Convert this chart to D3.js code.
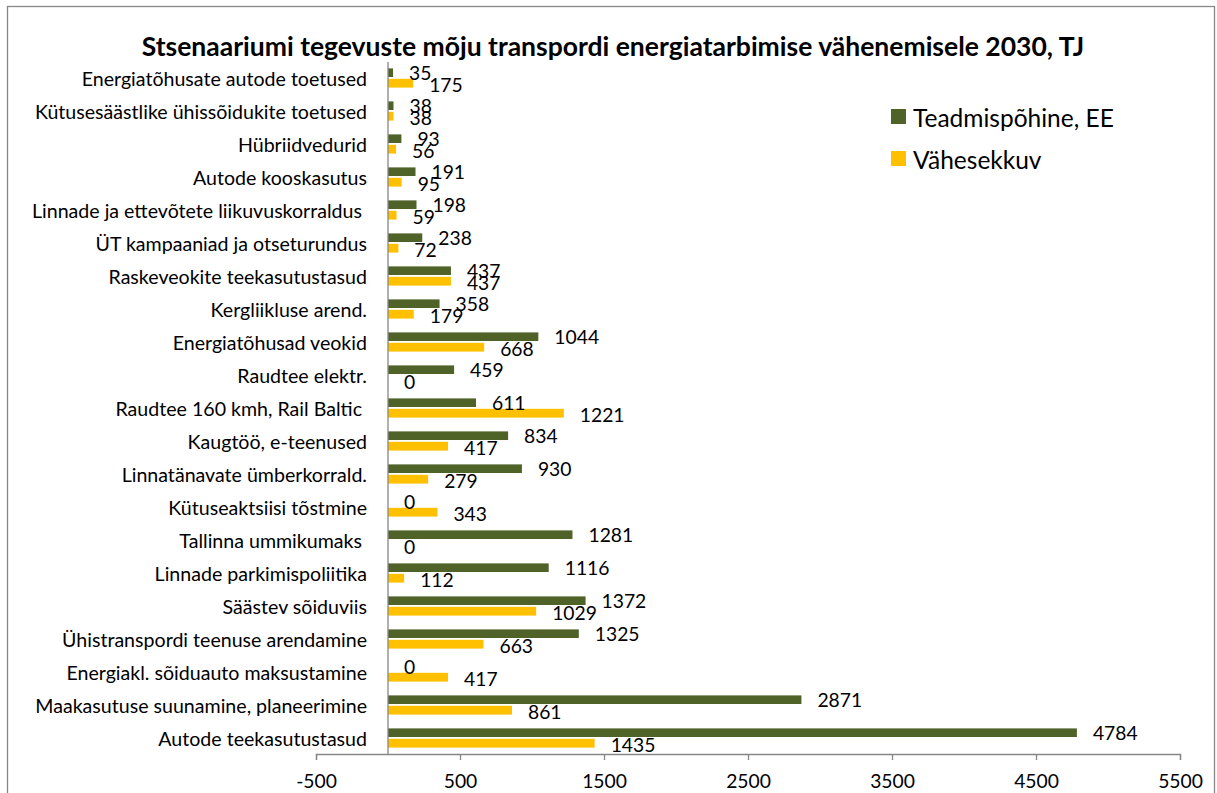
<!DOCTYPE html>
<html>
<head>
<meta charset="utf-8">
<script src="https://cdn.jsdelivr.net/npm/d3@7"></script>
<style>
  html, body { margin: 0; padding: 0; background: #fff; }
  svg text { font-family: Lato, "Open Sans", sans-serif; fill: #000; }
</style>
</head>
<body>
<svg id="chart" width="1217" height="793"></svg>
<script>
const title = "Stsenaariumi tegevuste mõju transpordi energiatarbimise vähenemisele 2030, TJ";
const categories = [
  "Energiatõhusate autode toetused",
  "Kütusesäästlike ühissõidukite toetused",
  "Hübriidvedurid",
  "Autode kooskasutus",
  "Linnade ja ettevõtete liikuvuskorraldus ",
  "ÜT kampaaniad ja otseturundus",
  "Raskeveokite teekasutustasud",
  "Kergliikluse arend.",
  "Energiatõhusad veokid",
  "Raudtee elektr.",
  "Raudtee 160 kmh, Rail Baltic ",
  "Kaugtöö, e-teenused",
  "Linnatänavate ümberkorrald.",
  "Kütuseaktsiisi tõstmine",
  "Tallinna ummikumaks ",
  "Linnade parkimispoliitika",
  "Säästev sõiduviis",
  "Ühistranspordi teenuse arendamine",
  "Energiakl. sõiduauto maksustamine",
  "Maakasutuse suunamine, planeerimine",
  "Autode teekasutustasud"
];
const seriesNames = ["Teadmispõhine, EE", "Vähesekkuv"];
const teadmispohine = [35, 38, 93, 191, 198, 238, 437, 358, 1044, 459, 611, 834, 930, 0, 1281, 1116, 1372, 1325, 0, 2871, 4784];
const vahesekkuv = [175, 38, 56, 95, 59, 72, 437, 179, 668, 0, 1221, 417, 279, 343, 0, 112, 1029, 663, 417, 861, 1435];
const tickValues = [-500, 500, 1500, 2500, 3500, 4500, 5500];
const colors = ["#4F6228", "#FFC000"];

const svg = d3.select("#chart");

// frame
svg.append("rect").attr("x", 7.5).attr("y", 6.5).attr("width", 1207).attr("height", 800)
  .attr("fill", "none").attr("stroke", "#878787").attr("stroke-width", 1.3);

const x = d3.scaleLinear().domain([-500, 5500]).range([316, 1180]);
const y = d3.scaleBand().domain(categories).range([61.5, 754.5]).padding(0);

const series = [teadmispohine, vahesekkuv];
const barOffsets = [-9.6, 0.8];
const barHeights = [8.6, 8.8];

// title
svg.append("text").attr("x", 613).attr("y", 46).attr("text-anchor", "middle")
  .attr("dominant-baseline", "central")
  .style("font-size", "26.5px").style("font-weight", "bold").text(title);

// bars
series.forEach((vals, si) => {
  svg.append("g").selectAll("rect").data(categories).join("rect")
    .attr("x", (d, i) => Math.min(x(0), x(vals[i])))
    .attr("y", d => y(d) + y.bandwidth() / 2 + barOffsets[si])
    .attr("width", (d, i) => Math.abs(x(vals[i]) - x(0)))
    .attr("height", barHeights[si])
    .attr("fill", colors[si]);
});

// value labels
series.forEach((vals, si) => {
  svg.append("g").selectAll("text").data(categories).join("text")
    .attr("x", (d, i) => x(vals[i]) + 16)
    .attr("y", d => y(d) + y.bandwidth() / 2 + barOffsets[si] + barHeights[si] / 2 + (si === 0 ? 0 : 1))
    .attr("dominant-baseline", "central")
    .style("font-size", "19.3px")
    .text((d, i) => vals[i]);
});

// category labels
svg.append("g").selectAll("text").data(categories).join("text")
  .attr("x", 367)
  .attr("y", d => y(d) + y.bandwidth() / 2)
  .attr("text-anchor", "end")
  .attr("dominant-baseline", "central")
  .style("font-size", "19.6px")
  .style("white-space", "pre")
  .text(d => d);

// zero line
svg.append("line").attr("x1", x(0)).attr("x2", x(0)).attr("y1", 62).attr("y2", 754)
  .attr("stroke", "#868686").attr("stroke-width", 1.3);

// x axis
const axis = d3.axisBottom(x).tickValues(tickValues).tickSize(6).tickPadding(14).tickFormat(d => String(d));
const gx = svg.append("g").attr("transform", "translate(0,754)").call(axis);
gx.select(".domain").attr("stroke", "#868686").attr("stroke-width", 1.3);
gx.selectAll(".tick line").attr("stroke", "#868686").attr("stroke-width", 1.3);
gx.selectAll(".tick text").style("font-size", "19.3px").style("font-family", "Lato, sans-serif").attr("fill", "#000");

// legend
const lg = svg.append("g");
seriesNames.forEach((name, i) => {
  lg.append("rect").attr("x", 891).attr("y", 109 + i * 42).attr("width", 15).attr("height", 15).attr("fill", colors[i]);
  lg.append("text").attr("x", 913).attr("y", 117 + i * 42).attr("dominant-baseline", "central")
    .style("font-size", "24.5px").text(name);
});
</script>
</body>
</html>
